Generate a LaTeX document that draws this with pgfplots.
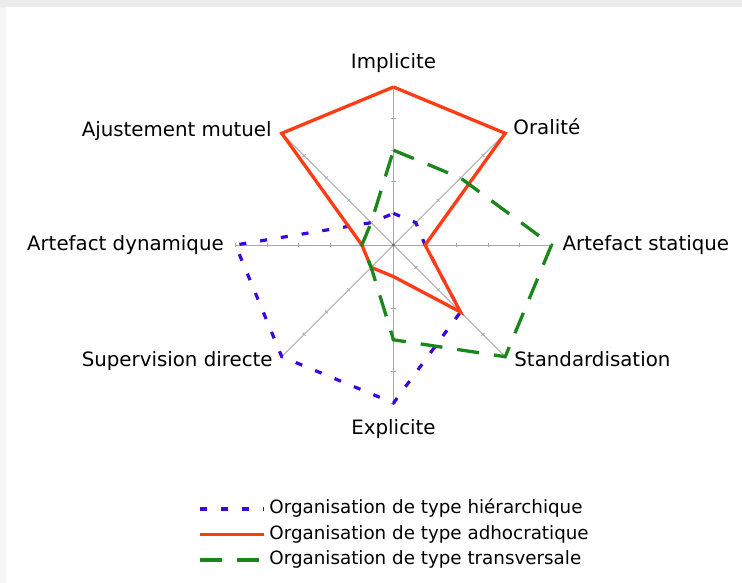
\documentclass[border=0pt]{standalone}
\usepackage{fontspec}
\setmainfont{DejaVu Sans}
\usepackage{pgfplots}
\pgfplotsset{compat=1.18}
\usepgfplotslibrary{polar}

\definecolor{hier}{HTML}{3A06E0}
\definecolor{adho}{HTML}{FF3C14}
\definecolor{trans}{HTML}{1B861B}
\definecolor{spokegray}{HTML}{A8A8A8}

\tikzset{spokeline/.style={draw=spokegray, line width=0.8pt},
         lab/.style={inner sep=0pt, font=\fontsize{19.8}{24}\selectfont}}

\begin{document}
\fontsize{18}{22}\selectfont
\begin{tikzpicture}[x=1pt,y=1pt]
% page frame and light shadow at the top and left edges
\path[fill=white] (0,0) rectangle (742,583);
\fill[gray!16] (0,576) rectangle (742,583);
\fill[gray!7] (0,0) rectangle (6,576);

\begin{polaraxis}[
  at={(393.5pt,338pt)}, anchor=center,
  scale only axis, width=316pt, height=316pt,
  xmin=0, xmax=360, ymin=0, ymax=5,
  hide axis, clip=false,
  legend cell align=left,
  legend image code/.code={\draw[#1] (0pt,0pt) -- (64pt,0pt);},
  legend style={at={(-0.119,-0.303)}, anchor=north west,
                draw=none, fill=none, inner sep=0pt,
                row sep=5.5pt, column sep=3pt,
                nodes={inner sep=1pt, text height=14pt, text depth=4pt},
                font=\fontsize{18.3}{22}\selectfont},
]
% spokes with unit ticks
\pgfplotsinvokeforeach{0,45,90,135,180,225,270,315}{
  \draw[spokeline] (axis cs:0,0) -- (axis cs:#1,5);
  \draw[spokeline]
    (axis cs:#1,1) ++(#1+90:2pt) -- ++(#1-90:4pt)
    (axis cs:#1,2) ++(#1+90:2pt) -- ++(#1-90:4pt)
    (axis cs:#1,3) ++(#1+90:2pt) -- ++(#1-90:4pt)
    (axis cs:#1,4) ++(#1+90:2pt) -- ++(#1-90:4pt)
    (axis cs:#1,5) ++(#1+90:2pt) -- ++(#1-90:4pt);
}
\fill[gray!70!black] (axis cs:0,0) circle (1.4pt);

% order: Implicite, Oralite, Artefact statique, Standardisation,
% Explicite, Supervision directe, Artefact dynamique, Ajustement mutuel
\addplot[color=hier, line width=3.2pt, dash pattern=on 7pt off 14pt]
  coordinates {(90,1)(45,1)(0,1)(315,3)(270,5)(225,5)(180,5)(135,1)(90,1)};
\addlegendentry{Organisation de type hiérarchique}
\addplot[color=adho, line width=3.3pt]
  coordinates {(90,5)(45,5)(0,1)(315,3)(270,1)(225,1)(180,1)(135,5)(90,5)};
\addlegendentry{Organisation de type adhocratique}
\addplot[color=trans, line width=3.3pt, dash pattern=on 22pt off 15pt]
  coordinates {(90,3)(45,3)(0,5)(315,5)(270,3)(225,1)(180,1)(135,1)(90,3)};
\addlegendentry{Organisation de type transversale}

% category labels at the spoke ends
\node[lab, anchor=base, yshift=18.5pt] at (axis cs:90,5) {Implicite};
\node[lab, anchor=base west, xshift=8pt, yshift=-1.5pt] at (axis cs:45,5) {Oralité};
\node[lab, anchor=base west, xshift=11pt, yshift=-5.5pt] at (axis cs:0,5) {Artefact statique};
\node[lab, anchor=base west, xshift=9pt, yshift=-9.5pt] at (axis cs:315,5) {Standardisation};
\node[lab, anchor=base, yshift=-31.5pt] at (axis cs:270,5) {Explicite};
\node[lab, anchor=base east, xshift=-9pt, yshift=-9.5pt] at (axis cs:225,5) {Supervision directe};
\node[lab, anchor=base east, xshift=-11.5pt, yshift=-5.5pt] at (axis cs:180,5) {Artefact dynamique};
\node[lab, anchor=base east, xshift=-10pt, yshift=-3.5pt] at (axis cs:135,5) {Ajustement mutuel};
\end{polaraxis}

\pgfresetboundingbox
\useasboundingbox (0,0) rectangle (742,583);
\end{tikzpicture}
\end{document}
